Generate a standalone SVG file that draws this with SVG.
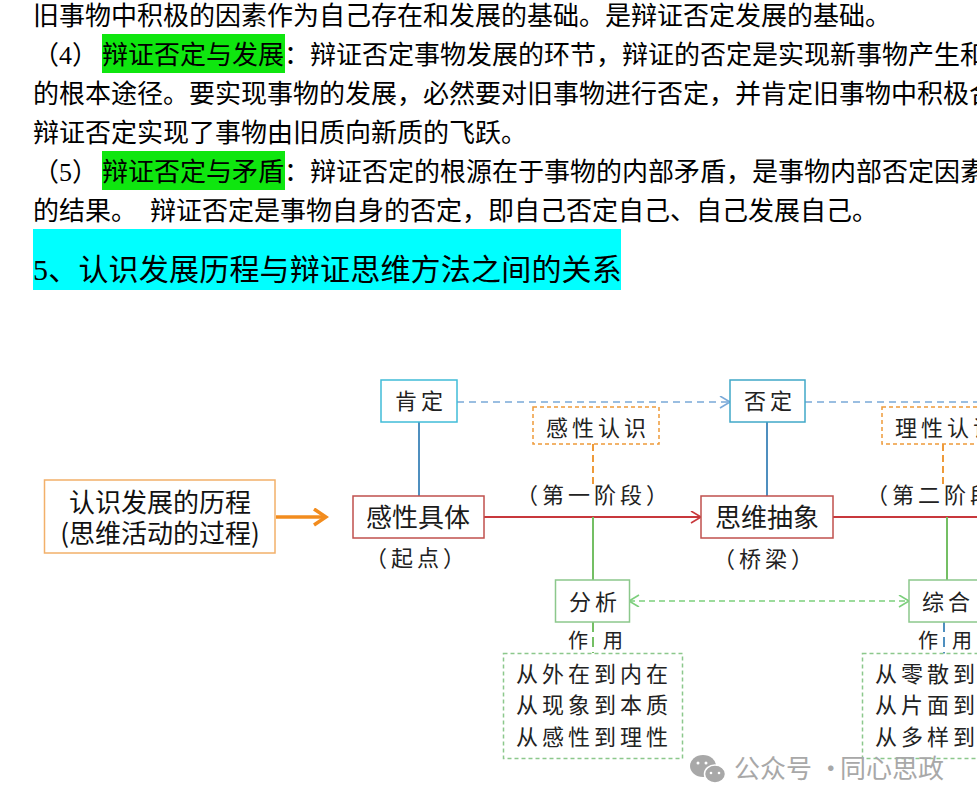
<svg xmlns="http://www.w3.org/2000/svg" width="977" height="807" viewBox="0 0 977 807">
<style>
text{font-family:"Noto Sans CJK SC","Liberation Sans",sans-serif;fill:#111}
.p{font-size:26px;font-family:"Liberation Serif","Noto Sans CJK SC",serif;fill:#000}
.n{fill:#fff;stroke-width:1.5}
.k{font-size:22px;text-anchor:middle;letter-spacing:4px;fill:#222}
.m{font-size:26px;text-anchor:middle;fill:#1a1a1a}
.l{font-size:22px;letter-spacing:4px;fill:#222}
.z{font-size:20px;fill:#222}
.c{fill:none;stroke-width:2}
</style>
<defs>
<marker id="ab" markerWidth="14" markerHeight="14" refX="11" refY="6" orient="auto" markerUnits="userSpaceOnUse"><path d="M1 0L11 6L1 12" fill="none" stroke="#7aa9d8" stroke-width="1.6"/></marker>
<marker id="ar" markerWidth="14" markerHeight="14" refX="11" refY="6" orient="auto" markerUnits="userSpaceOnUse"><path d="M1 0L11 6L1 12" fill="none" stroke="#c8383c" stroke-width="1.6"/></marker>
<marker id="ag" markerWidth="14" markerHeight="14" refX="11" refY="6" orient="auto-start-reverse" markerUnits="userSpaceOnUse"><path d="M1 0L11 6L1 12" fill="none" stroke="#7ccf7c" stroke-width="1.6"/></marker>
<marker id="ao" markerWidth="18" markerHeight="20" refX="15" refY="9" orient="auto" markerUnits="userSpaceOnUse"><path d="M3 1L15 9L3 17" fill="none" stroke="#f28c1e" stroke-width="3.5"/></marker>
</defs>
<rect width="977" height="807" fill="#fff"/>
<g id="article">
<rect x="102" y="34" width="183" height="39" fill="#0fe60f"/>
<rect x="102" y="151" width="183" height="39" fill="#0fe60f"/>
<rect x="33" y="229" width="588" height="61" fill="#00ffff"/>
<text class="p" x="33" y="25">旧事物中积极的因素作为自己存在和发展的基础。是辩证否定发展的基础。</text>
<text class="p" x="33" y="64">（4）</text>
<text class="p" x="102" y="64">辩证否定与发展：辩证否定事物发展的环节，辩证的否定是实现新事物产生和</text>
<text class="p" x="33" y="103">的根本途径。要实现事物的发展，必然要对旧事物进行否定，并肯定旧事物中积极合</text>
<text class="p" x="33" y="142">辩证否定实现了事物由旧质向新质的飞跃。</text>
<text class="p" x="33" y="181">（5）</text>
<text class="p" x="102" y="181">辩证否定与矛盾：辩证否定的根源在于事物的内部矛盾，是事物内部否定因素</text>
<text class="p" x="33" y="220">的结果。<tspan x="150">辩证否定是事物自身的否定，即自己否定自己、自己发展自己。</tspan></text>
<text x="33" y="280" style="font-size:30px;letter-spacing:.2px;font-family:'Liberation Serif','Noto Sans CJK SC',serif;fill:#000">5、认识发展历程与辩证思维方法之间的关系</text>
</g>
<g id="connectors">
<path class="c" d="M276 517H326" stroke="#f28c1e" style="stroke-width:3.500" marker-end="url(#ao)"/>
<path class="c" d="M419 422V496M767 422V496" stroke="#4f8fbf"/>
<path class="c" d="M457 402H730" stroke="#7aa9d8" style="stroke-width:1.500" stroke-dasharray="7 5" marker-end="url(#ab)"/>
<path class="c" d="M805 402H977" stroke="#7aa9d8" style="stroke-width:1.500" stroke-dasharray="7 5"/>
<path class="c" d="M484 517H701" stroke="#c8383c" marker-end="url(#ar)"/>
<path class="c" d="M833 517H977" stroke="#c8383c"/>
<path class="c" d="M593 444V487M943 444V487" stroke="#ee9a3a" stroke-dasharray="7 4"/>
<path class="c" d="M593 517V580M947 517V580" stroke="#74bf64"/>
<path class="c" d="M629 601H909" stroke="#7ccf7c" style="stroke-width:1.500" stroke-dasharray="6 4" marker-start="url(#ag)" marker-end="url(#ag)"/>
<path class="c" d="M593 622V653" stroke="#74bf64" stroke-dasharray="10 5"/>
<path class="c" d="M944 622V656" stroke="#4f8fbf" stroke-dasharray="10 5"/>
</g>
<g id="n-process"><rect x="44.500" y="480" width="230.500" height="73" class="n" stroke="#f2b06a"/>
<text text-anchor="middle" style="font-size:26px"><tspan x="160" y="512">认识发展的历程</tspan><tspan x="160" y="543">(思维活动的过程)</tspan></text></g>
<g id="n-kending"><rect x="381" y="380" width="76" height="42" class="n" stroke="#40bcd8"/><text class="k" x="421" y="409">肯定</text></g>
<g id="n-fouding"><rect x="730" y="380" width="75" height="42" class="n" stroke="#40a8c8"/><text class="k" x="770" y="409">否定</text></g>
<g id="n-ganxingrenshi"><rect x="533" y="407" width="126" height="37" class="n" stroke="#ee9a3a" stroke-dasharray="4 3"/><text class="k" x="598" y="436">感性认识</text></g>
<g id="n-lixingrenshi"><rect x="882" y="407" width="122" height="37" class="n" stroke="#ee9a3a" stroke-dasharray="4 3"/><text class="k" x="947" y="436">理性认识</text></g>
<g id="n-ganxingjuti"><rect x="353" y="496" width="131" height="42" class="n" stroke="#c0504d"/><text class="m" x="418" y="527">感性具体</text></g>
<g id="n-siweichouxiang"><rect x="701" y="496" width="132" height="42" class="n" stroke="#c0504d"/><text class="m" x="767" y="527">思维抽象</text></g>
<g id="labels">
<text class="k" x="594" y="503">（第一阶段）</text>
<text class="k" x="944" y="503">（第二阶段）</text>
<text class="k" x="417" y="566">（起点）</text>
<text class="k" x="765" y="567">（桥梁）</text>
</g>
<g id="n-fenxi"><rect x="555.500" y="580" width="74" height="42" class="n" stroke="#8cc88c"/><text class="k" x="595" y="610">分析</text></g>
<g id="n-zonghe"><rect x="909" y="580" width="74" height="42" class="n" stroke="#8cc88c"/><text class="k" x="948" y="610">综合</text></g>
<g id="n-zuoyong1"><text class="z" x="568" y="648">作</text><text class="z" x="603" y="648">用</text></g>
<g id="n-zuoyong2"><text class="z" x="918" y="648">作</text><text class="z" x="952" y="648">用</text></g>
<g id="n-fenxi-list"><rect x="503.500" y="653.500" width="179" height="105" class="n" stroke="#8cc88c" stroke-dasharray="4 3"/>
<text class="l" x="516" y="682">从外在到内在</text><text class="l" x="516" y="713">从现象到本质</text><text class="l" x="516" y="745">从感性到理性</text></g>
<g id="n-zonghe-list"><rect x="862.500" y="653.500" width="179" height="105" class="n" stroke="#8cc88c" stroke-dasharray="4 3"/>
<text class="l" x="875" y="682">从零散到</text><text class="l" x="875" y="713">从片面到</text><text class="l" x="875" y="745">从多样到</text></g>
<g id="watermark">
<ellipse cx="703" cy="766" rx="13" ry="11" fill="#a8a8a8"/>
<ellipse cx="715" cy="774" rx="10.500" ry="9" fill="#a8a8a8" stroke="#fff" stroke-width="1.500"/>
<circle cx="698" cy="763" r="1.500" fill="#fff"/><circle cx="706" cy="763" r="1.500" fill="#fff"/>
<circle cx="711" cy="773" r="1.300" fill="#fff"/><circle cx="719" cy="773" r="1.300" fill="#fff"/>
<text y="778" style="font-size:26px;fill:#a8a8a8"><tspan x="734">公众号 · </tspan><tspan x="840">同心思政</tspan></text>
</g>
</svg>
